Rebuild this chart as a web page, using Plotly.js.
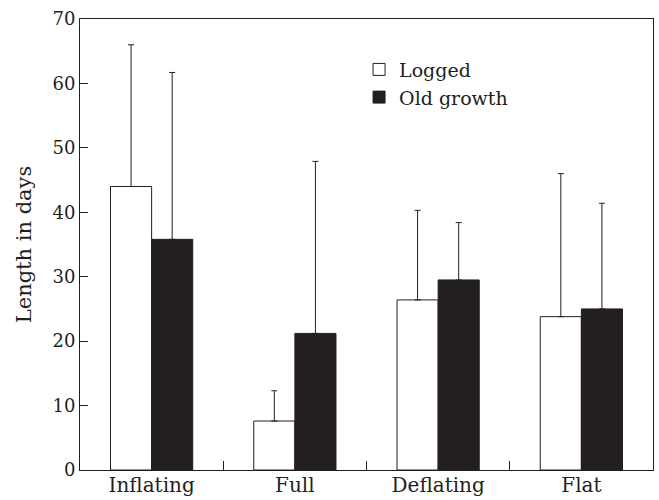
<!DOCTYPE html>
<html>
<head>
<meta charset="utf-8">
<script src="https://cdn.plot.ly/plotly-3.0.1.min.js"></script>
<style>html,body{margin:0;padding:0;background:#fff;}</style>
</head>
<body>
<div id="chart" style="width:659px;height:500px;"></div>
<script>
const categories = ["Inflating", "Full", "Deflating", "Flat"];
const loggedMean = [44.0, 7.6, 26.4, 23.8];
const loggedErr = [22.0, 4.7, 13.9, 22.2];
const oldGrowthMean = [35.8, 21.2, 29.5, 25.0];
const oldGrowthErr = [25.9, 26.7, 8.9, 16.4];
const yTicks = [0, 10, 20, 30, 40, 50, 60, 70];

const ink = "#231f20";
const zeros = categories.map(() => 0);

const traces = [
  {
    type: "bar", name: "Logged", x: categories, y: loggedMean,
    marker: {color: "#ffffff", line: {color: ink, width: 1}},
    error_y: {type: "data", symmetric: false, array: loggedErr, arrayminus: zeros,
              color: ink, thickness: 1, width: 3}
  },
  {
    type: "bar", name: "Old growth", x: categories, y: oldGrowthMean,
    marker: {color: ink, line: {color: ink, width: 1}},
    error_y: {type: "data", symmetric: false, array: oldGrowthErr, arrayminus: zeros,
              color: ink, thickness: 1, width: 3}
  }
];

const layout = {
  width: 659, height: 500,
  margin: {l: 80, r: 6, t: 19, b: 30},
  paper_bgcolor: "#ffffff", plot_bgcolor: "#ffffff",
  font: {family: "DejaVu Serif", size: 18, color: ink},
  barmode: "group", bargap: 0.426, bargroupgap: 0,
  showlegend: true,
  legend: {x: 0.487, y: 0.93, xanchor: "left", yanchor: "top",
           bgcolor: "rgba(0,0,0,0)", font: {family: "DejaVu Serif", size: 19, color: ink},
           tracegroupgap: 0},
  xaxis: {
    type: "category", range: [-0.5, 3.5], automargin: false,
    showline: true, mirror: true, linecolor: ink, linewidth: 1,
    ticks: "inside", tickson: "boundaries", ticklen: 9, tickcolor: ink,
    showgrid: false, zeroline: false, ticklabelstandoff: -3,
    tickfont: {family: "DejaVu Serif", size: 20, color: ink}
  },
  yaxis: {
    range: [0, 70], tickvals: yTicks, ticktext: yTicks.map(String), automargin: false,
    showline: true, mirror: true, linecolor: ink, linewidth: 1,
    ticks: "inside", ticklen: 8, tickcolor: ink,
    showgrid: false, zeroline: false,
    tickfont: {family: "DejaVu Serif", size: 18, color: ink},
    title: {text: "Length in days", standoff: 15,
            font: {family: "DejaVu Serif", size: 21, color: ink}}
  }
};

Plotly.newPlot("chart", traces, layout, {displayModeBar: false, staticPlot: true});
</script>
</body>
</html>
